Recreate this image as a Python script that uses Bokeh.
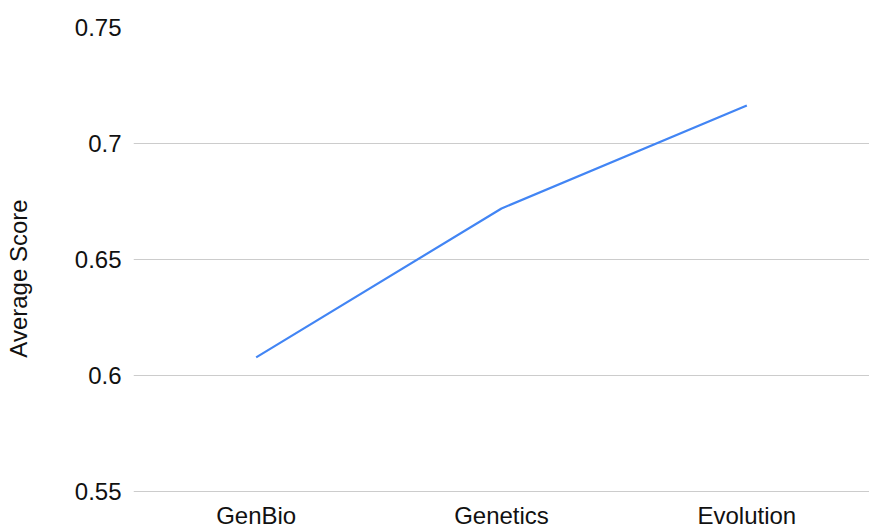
from bokeh.plotting import figure
from bokeh.models import FactorRange, Range1d, FixedTicker, ColumnDataSource
from bokeh.core.properties import value
from bokeh.embed import file_html
from bokeh.resources import INLINE

categories = ["GenBio", "Genetics", "Evolution"]
scores = [0.6078, 0.6720, 0.7164]
y_ticks = [0.55, 0.6, 0.65, 0.7, 0.75]
y_tick_labels = ["0.55", "0.6", "0.65", "0.7", "0.75"]

font = "Liberation Sans"
text_color = "#111111"

W, H = 869, 529
top, left = 27, 133
axis_px = 464          # pixel span from lowest to highest tick
extra = H - top - axis_px   # room below the lowest tick for category labels
y_lo, y_hi = y_ticks[0], y_ticks[-1]
y_start = y_lo - (y_hi - y_lo) * extra / axis_px

p = figure(width=W, height=H, output_backend="svg", toolbar_location=None,
           x_range=FactorRange(*categories, range_padding=0),
           y_range=Range1d(y_start, y_hi))
p.min_border_left = left
p.min_border_right = 0
p.min_border_top = top
p.min_border_bottom = 0
p.outline_line_color = None
p.background_fill_color = "white"
p.border_fill_color = "white"

p.line(categories, scores, line_color="#4285f4", line_width=2.2)

# category labels just under the lowest grid line
p.xaxis.visible = False
cat_src = ColumnDataSource(dict(x=categories, y=[y_lo] * len(categories), t=categories))
p.text(x="x", y="y", text="t", source=cat_src, y_offset=10,
       text_align="center", text_baseline="top",
       text_font=value(font), text_font_size="24px", text_color=text_color)

p.yaxis.ticker = FixedTicker(ticks=y_ticks)
p.yaxis.major_label_overrides = {t: l for t, l in zip(y_ticks, y_tick_labels)}
ax = p.yaxis[0]
ax.axis_line_color = None
ax.major_tick_line_color = None
ax.minor_tick_line_color = None
ax.major_tick_out = 0
ax.major_tick_in = 0
ax.major_label_text_font = font
ax.major_label_text_font_size = "24px"
ax.major_label_text_color = text_color
ax.major_label_standoff = 12
ax.axis_label = "Average Score"
ax.axis_label_text_font = font
ax.axis_label_text_font_size = "24px"
ax.axis_label_text_font_style = "normal"
ax.axis_label_text_color = text_color
ax.axis_label_standoff = 40

p.xgrid.grid_line_color = None
p.ygrid.grid_line_color = "#cccccc"
p.ygrid.grid_line_width = 1.2

open("out.html", "w").write(file_html(p, INLINE))
